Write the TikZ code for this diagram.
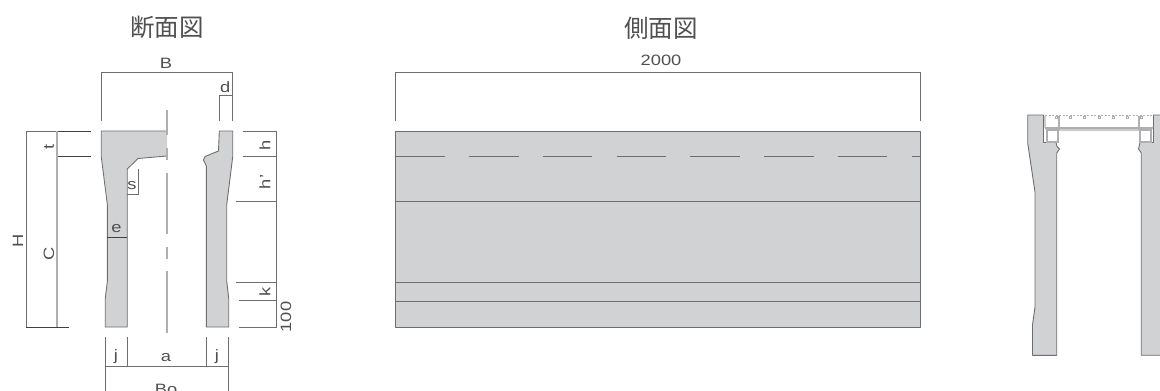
\documentclass[tikz,border=0pt]{standalone}
\usepackage{fontspec}
\setmainfont{Liberation Sans}[FakeStretch=1.22]
\newfontfamily\cjk{Noto Sans CJK JP}
\definecolor{fillgray}{RGB}{209,210,212}
\definecolor{edgegray}{RGB}{110,110,112}
\definecolor{lightline}{RGB}{175,175,177}
\definecolor{txtgray}{RGB}{80,80,82}
\tikzset{
 solidpart/.style={fill=fillgray,draw=edgegray,line width=0.9pt,line join=round},
 dimline/.style={draw=edgegray,line width=0.85pt},
 darkline/.style={draw=black!75,line width=0.8pt},
 lightdim/.style={draw=lightline,line width=1.1pt},
 grate/.style={draw=lightline,line width=1.2pt},
 lbl/.style={text=txtgray,font=\fontsize{15}{15}\selectfont,inner sep=0pt},
 ttl/.style={text=txtgray,font=\cjk\fontsize{24.5}{24.5}\selectfont,inner sep=0pt},
}
\begin{document}
\begin{tikzpicture}[x=1pt,y=-1pt]
\useasboundingbox (0,0) rectangle (1160,391);
% titles
\node[ttl] (t1) at (167,27) {断面図};
\node[ttl] (t2) at (661,28) {側面図};
% section left / right parts
\path[fill=fillgray] (101.3,131) -- (167,131) -- (167,156) -- (138,158.5) -- (127.3,169) -- (127.3,327) -- (105.3,327) -- (105.3,298) -- (107.4,281) -- (107.4,205) -- (101.3,157) -- cycle;
\draw[dimline] (167,156) -- (138,158.5) -- (127.3,169) -- (127.3,327) -- (105.3,327) -- (105.3,298) -- (107.4,281) -- (107.4,205) -- (101.3,157) -- (101.3,131) -- (167,131);
\draw[solidpart] (219.3,131) -- (232.7,131) -- (232.7,157) -- (226.7,205) -- (226.7,281) -- (228.7,298) -- (228.7,327) -- (206.3,327) -- (206.3,166) -- (203.5,160) -- (205,156.5) -- (218.5,151) -- cycle;
% centre line
\foreach \a/\b in {110/135,148/160,173/234,247/259,271/333}
  \draw[lightdim] (167,\a) -- (167,\b);
% dimensions top
\draw[dimline] (101.3,121) -- (101.3,72) -- (232.7,72) -- (232.7,121);
\draw[dimline] (219.3,121) -- (219.3,95) -- (232.7,95);
\node[lbl] (lB) at (166,63) {B};
\node[lbl] (ld) at (225.3,87) {d};
% dimensions left
\draw[dimline] (91,131) -- (26,131) -- (26,327);
\draw[darkline] (26,327) -- (69,327);
\draw[darkline] (56,131) -- (91,131);
\draw[darkline] (56,156) -- (91,156);
\draw[lightdim] (57,131) -- (57,327);
\node[lbl,rotate=90] (lt) at (49,147) {t};
\node[lbl,rotate=90] (lH) at (18,241) {H};
\node[lbl,rotate=90] (lC) at (49,254) {C};
% dimensions right
\draw[dimline] (243,131) -- (276,131) -- (276,327) -- (239,327);
\draw[dimline] (243,156) -- (276,156);
\draw[dimline] (236,201) -- (276,201);
\draw[dimline] (236,282) -- (276,282);
\draw[dimline] (239,300.7) -- (276,300.7);
\node[lbl,rotate=90] (lh) at (265,145) {h};
\node[lbl,rotate=90] (lhh) at (265,182) {h'};
\node[lbl,rotate=90] (lk) at (265,292) {k};
\node[lbl,rotate=90] (l100) at (286,317) {100};
% inner
\draw[dimline] (138,169) -- (138,194) -- (127.3,194);
\node[lbl] (ls) at (132,186) {s};
\draw[darkline] (107.4,237) -- (127.3,237);
\node[lbl] (le) at (116.5,229) {e};
% dimensions bottom
\draw[dimline] (105.3,391) -- (105.3,337);
\draw[dimline] (228.7,391) -- (228.7,337);
\draw[dimline] (127.3,337) -- (127.3,366);
\draw[dimline] (206.3,337) -- (206.3,366);
\draw[dimline] (105.3,366) -- (228.7,366);
\node[lbl] (lj1) at (116,357) {j};
\node[lbl] (la) at (166,358) {a};
\node[lbl] (lj2) at (217,357) {j};
\node[lbl,anchor=base] (lBo) at (166,394) {Bo};
% side view
\draw[solidpart] (395.5,131) rectangle (920,327);
\draw[dimline] (395.5,121) -- (395.5,72) -- (920,72) -- (920,121);
\node[lbl] (l2000) at (661,60) {2000};
\foreach \i in {0,...,6}
  \draw[dimline] ({395.5+73.7*\i},156) -- ({445+73.7*\i},156);
\draw[dimline] (912,156) -- (920,156);
\foreach \yy in {201,282,301}
  \draw[dimline] (395.5,\yy) -- (920,\yy);
% partial section, far right
\draw[solidpart] (1043.5,115) -- (1027.7,115) -- (1027.7,143) -- (1035,192) -- (1035,307) -- (1032.5,325) -- (1032.5,355.3) -- (1056.7,355.3) -- (1056.7,153) -- (1059.5,149) -- (1057,146.5) -- (1056,142.5) -- (1043.5,142.5) -- cycle;
\path[fill=fillgray] (1160,115) -- (1153.5,115) -- (1153.5,142.5) -- (1140,142.5) -- (1138.5,149) -- (1141.3,153) -- (1141.3,355.3) -- (1160,355.3) -- cycle;
\draw[dimline] (1160,115) -- (1153.5,115) -- (1153.5,142.5) -- (1140,142.5) -- (1138.5,149) -- (1141.3,153) -- (1141.3,355.3) -- (1160,355.3);
% grating
\draw[grate] (1045,115.5) -- (1045,127) -- (1047,130) -- (1151,130) -- (1153,127);
\draw[grate] (1045,128) -- (1152,128);
\draw[grate] (1059,116) -- (1059,130);
\draw[grate] (1139,116) -- (1139,130);
\draw[grate] (1047,130) rectangle (1058,142);
\draw[grate] (1140,130) rectangle (1151,142);
\draw[lightline,line width=0.7pt,dash pattern=on 2pt off 1.5pt] (1045,115.5) -- (1153,115.5);
\foreach \xx in {1056.7,1070.3,1084.7,1099,1113.3,1127.3,1141}
  \draw[lightline,line width=0.7pt] (\xx-1,116) rectangle (\xx+1,118);
\end{tikzpicture}
\end{document}
